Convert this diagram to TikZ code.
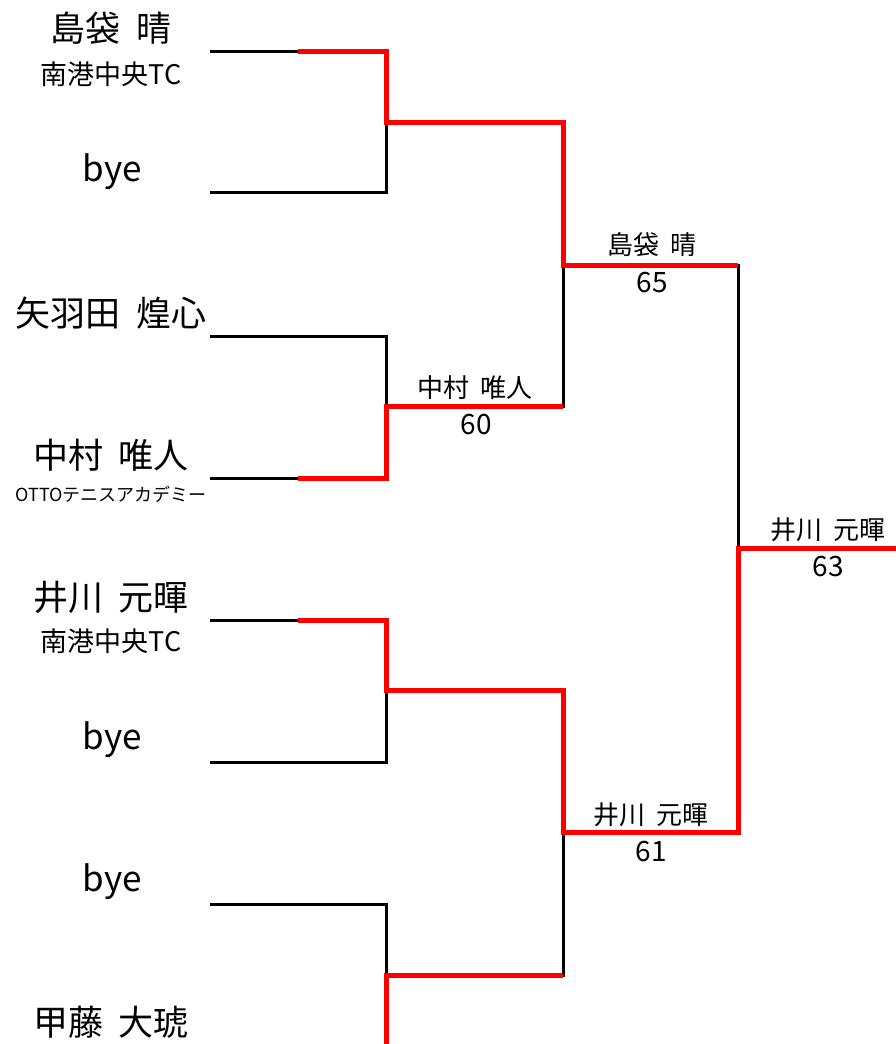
\documentclass[tikz,border=0pt]{standalone}
\usepackage{fontspec}
\setmainfont{Noto Sans CJK JP}
\newcommand\namegap{\hspace{.45em}}

\begin{document}
\begin{tikzpicture}[x=1pt,y=-1pt,
  bline/.style={line width=3pt,black},
  rline/.style={line width=5pt,red},
  player/.style={font=\fontsize{35}{40}\selectfont,inner sep=0pt},
  club/.style={font=\fontsize{27}{30}\selectfont,inner sep=0pt},
  winner/.style={font=\fontsize{26}{30}\selectfont,inner sep=0pt},
  score/.style={font=\fontsize{28}{32}\selectfont,inner sep=0pt}]
\useasboundingbox (0,0) rectangle (896,1044);

% Bracket points
\coordinate (a1) at (210,51);
\coordinate (a2) at (210,192);
\coordinate (a3) at (210,336);
\coordinate (a4) at (210,478);
\coordinate (a5) at (210,620);
\coordinate (a6) at (210,762);
\coordinate (a7) at (210,904);
\coordinate (a8) at (386,1044);% last entry is off the page

\coordinate (b1) at (386,122);
\coordinate (b2) at (386,406);
\coordinate (b3) at (386,690);
\coordinate (b4) at (386,975);

\coordinate (c1) at (563,265);
\coordinate (c2) at (563,832);

\coordinate (d1) at (738,548);
\coordinate (e) at (896,548);

% where the red starts on the player lines
\coordinate (w1) at (298,51);
\coordinate (w4) at (298,478);
\coordinate (w5) at (298,620);

% Players
\node[player] (n1) at (111,28) {島袋\namegap 晴};
\node[club] (t1) at (111,74) {南港中央TC};
\node[player] (n2) at (112,172) {bye};
\node[player] (n3) at (111,313) {矢羽田\namegap 煌心};
\node[player] (n4) at (111,455) {中村\namegap 唯人};
\node[font=\fontsize{18}{22}\selectfont,inner sep=0pt] (t4) at (111,494) {OTTOテニスアカデミー};
\node[player] (n5) at (111,597) {井川\namegap 元暉};
\node[club] (t5) at (111,641) {南港中央TC};
\node[player] (n6) at (112,740) {bye};
\node[player] (n7) at (112,882) {bye};
\node[player] (n8) at (111,1022) {甲藤\namegap 大琥};

% Black bracket
\draw[bline] (a1) -| (b1) |- (a2);
\draw[bline] (a3) -| (b2) |- (a4);
\draw[bline] (a5) -| (b3) |- (a6);
\draw[bline] (a7) -| (b4) -- (a8);
\draw[bline] (b1) -| (c1) |- (b2);
\draw[bline] (b3) -| (c2) |- (b4);
\draw[bline] (c1) -| (d1) |- (c2);
\draw[bline] (d1) -- (e);

% Winners in red
\draw[rline] (w1) -| (b1) -| (c1) -- (c1 -| d1);
\draw[rline] (w4) -| (b2) -- (b2 -| c1);
\draw[rline] (w5) -| (b3) -| (c2) -| (d1) -- (e);
\draw[rline] (a8) |- (b4 -| c2);

% Results
\node[winner] (m2) at (475,388) {中村\namegap 唯人};
\node[score] (s2) at (476,425) {60};
\node[winner] (m5) at (652,245) {島袋\namegap 晴};
\node[score] (s5) at (652,283) {65};
\node[winner] (m6) at (651,815) {井川\namegap 元暉};
\node[score] (s6) at (651,852) {61};
\node[winner] (m7) at (828,530) {井川\namegap 元暉};
\node[score] (s7) at (828,567) {63};

\end{tikzpicture}
\end{document}
